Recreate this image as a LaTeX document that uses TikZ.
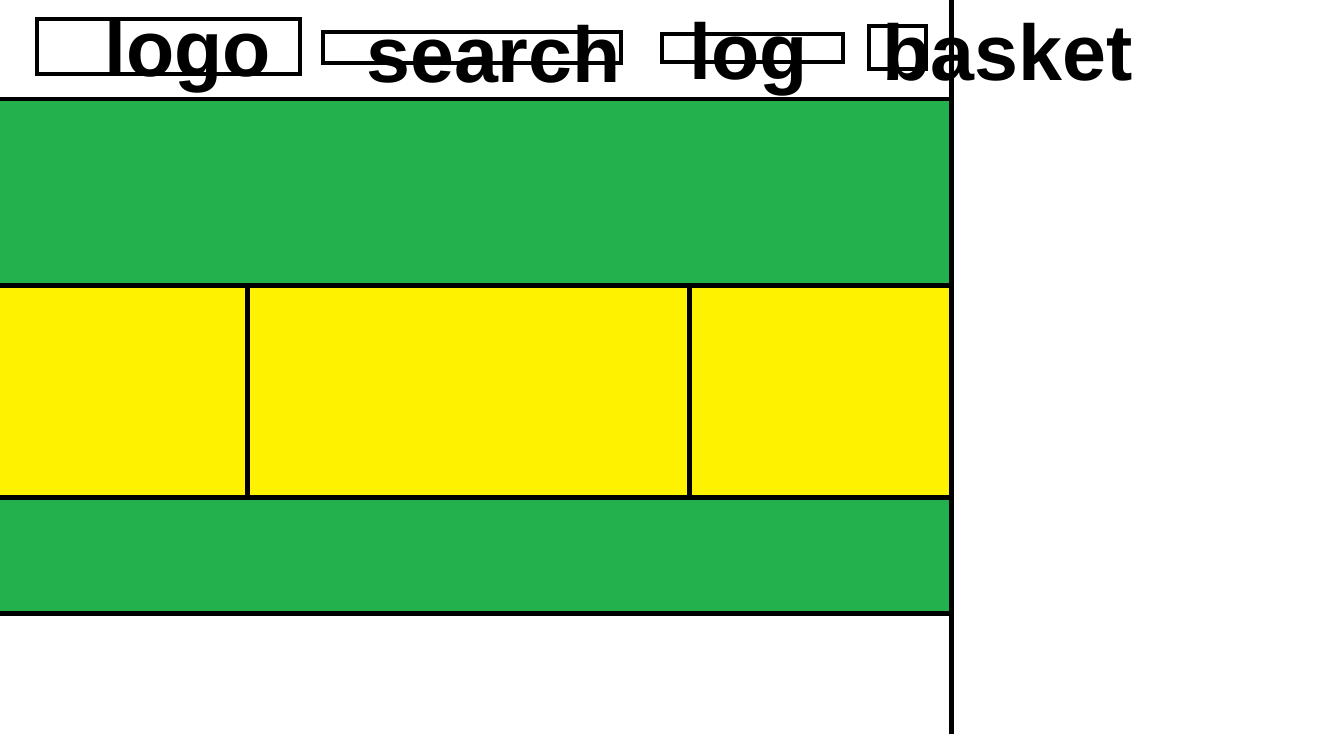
\documentclass[tikz,border=0pt]{standalone}
\usepackage{fontspec}
\setmainfont{Liberation Sans}
\usetikzlibrary{positioning}
\definecolor{paintgreen}{HTML}{22B14C}
\definecolor{paintyellow}{HTML}{FFF200}
\tikzset{wire/.style = {line width = 4.5, line cap = rect},
  framebox/.style = {draw, line width = 4},
  label/.style = {anchor = base west, inner sep = 0,
    font = \fontsize{79}{79}\bfseries\selectfont}}

\begin{document}
\begin{tikzpicture}[x=1pt, y=-1pt]
      \useasboundingbox (0, 0) rectangle (1322, 734);

      % bands
      \fill [paintgreen] (0, 99) rectangle (951, 285.5);
      \fill [paintyellow] (0, 285.5) rectangle (951, 497.5);
      \fill [paintgreen] (0, 497.5) rectangle (951, 613.5);

      \coordinate (l1) at (0, 99);
      \coordinate (r1) at (951, 99);
      \coordinate (l2) at (0, 285.5);
      \coordinate (r2) at (951, 285.5);
      \coordinate (l3) at (0, 497.5);
      \coordinate (r3) at (951, 497.5);
      \coordinate (l4) at (0, 613.5);
      \coordinate (r4) at (951, 613.5);
      \draw [wire] (l1) -- (r1);
      \draw [wire] (l2) -- (r2);
      \draw [wire] (l3) -- (r3);
      \draw [wire] (l4) -- (r4);

      \coordinate (d1top) at (247.5, 283);
      \coordinate (d1bot) at (247.5, 499);
      \coordinate (d2top) at (689.5, 283);
      \coordinate (d2bot) at (689.5, 499);
      \draw [wire, line cap = butt] (d1top) -- (d1bot);
      \draw [wire, line cap = butt] (d2top) -- (d2bot);

      \coordinate (edgetop) at (951.5, 0);
      \coordinate (edgebot) at (951.5, 734);
      \draw [wire, line cap = butt] (edgetop) -- (edgebot);

      % header boxes
      \draw [framebox] (37, 19) rectangle (300, 74);
      \draw [framebox] (323, 32) rectangle (621, 63);
      \draw [framebox] (662, 34) rectangle (843, 62);
      \draw [framebox] (869, 26) rectangle (926, 69);

      % header texts
      \node [label] (logo) at (104, 76) {logo};
      \node [label] (search) at (366, 82) {search};
      \node [label] (log) at (689, 79) {log};
      \node [label] (basket) at (882, 80) {basket};
    \end{tikzpicture}
\end{document}
